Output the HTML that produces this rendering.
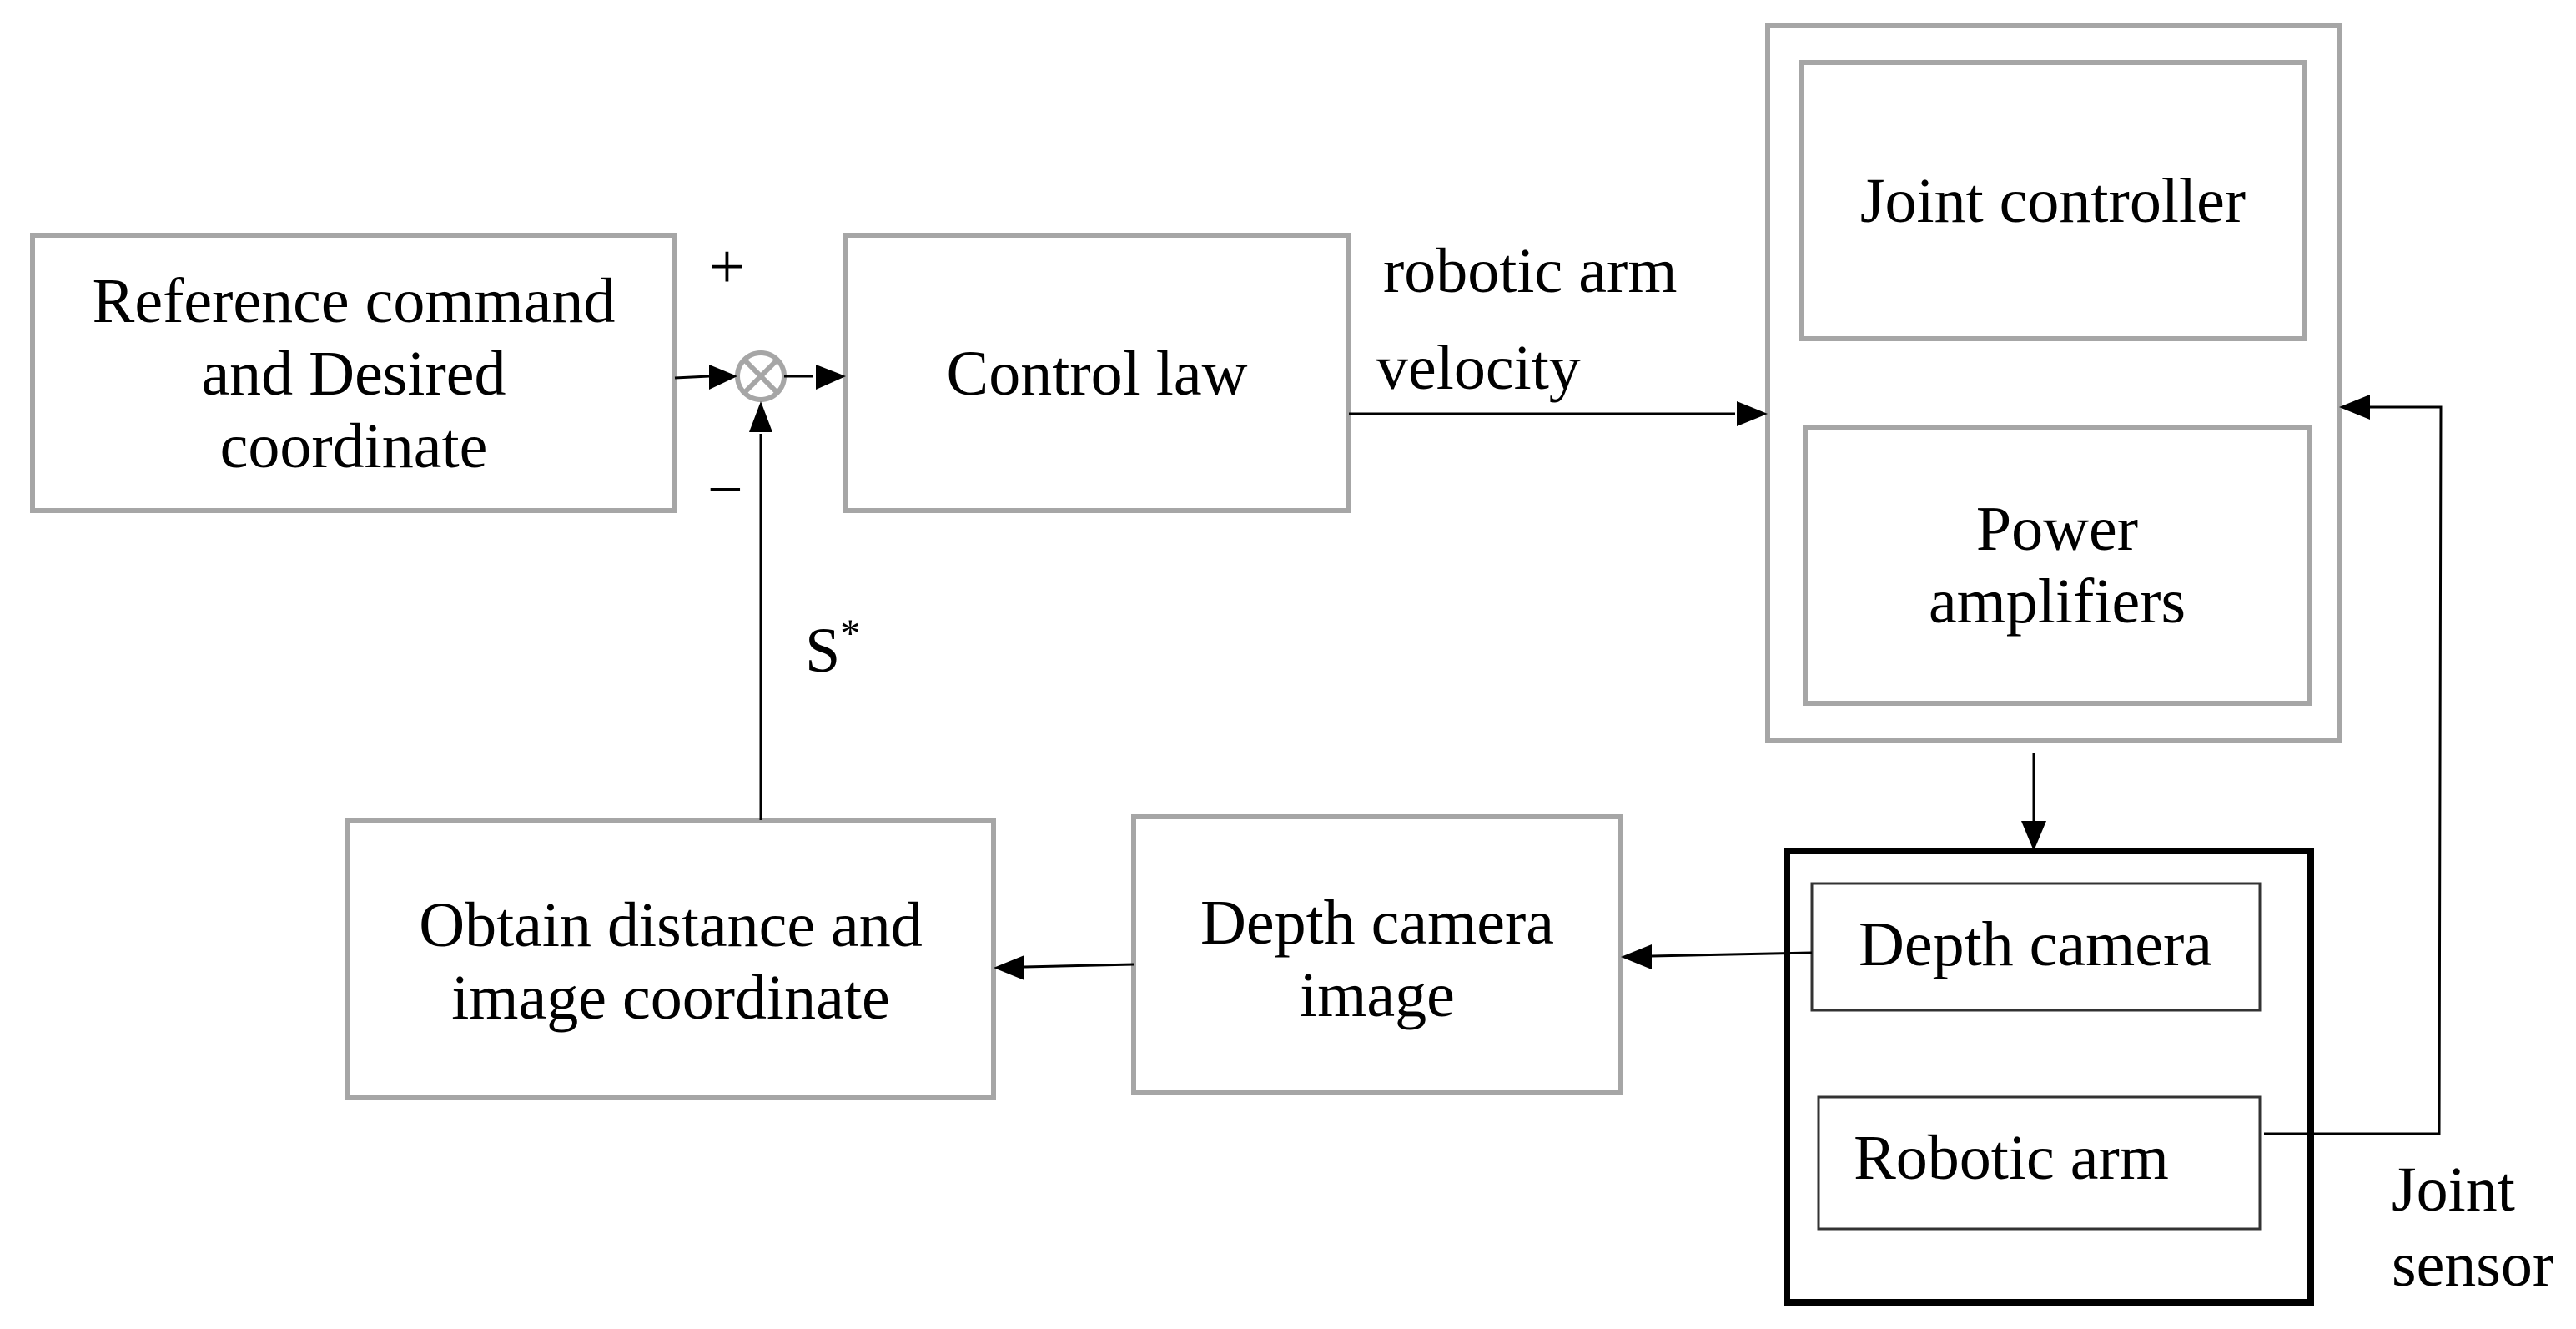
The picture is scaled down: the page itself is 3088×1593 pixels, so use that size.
<!DOCTYPE html>
<html><head><meta charset="utf-8"><style>
html,body{margin:0;padding:0;background:#fff;}
svg{display:block;}
text{font-family:"Liberation Serif",serif;font-size:76px;fill:#000;}
</style></head><body>
<svg width="3088" height="1593" viewBox="0 0 3088 1593" xmlns="http://www.w3.org/2000/svg">
<defs>
<marker id="a" markerWidth="10" markerHeight="10" refX="10" refY="5" orient="auto" markerUnits="userSpaceOnUse" viewBox="0 0 10 10">
</marker>
</defs>
<g fill="none" stroke="#a6a6a6" stroke-width="6">
<rect x="39" y="282" width="770" height="330"/>
<rect x="1014" y="282" width="603" height="330"/>
<rect x="2119" y="30" width="685" height="858"/>
<rect x="2160" y="75" width="603" height="331"/>
<rect x="2164" y="512" width="604" height="331"/>
<rect x="1359" y="979" width="584" height="330"/>
<rect x="417" y="983" width="774" height="332"/>
<circle cx="912" cy="451" r="28"/>
<line x1="893" y1="432" x2="931" y2="470"/>
<line x1="931" y1="432" x2="893" y2="470"/>
</g>
<rect x="2142" y="1020" width="628" height="541" fill="none" stroke="#000" stroke-width="8"/>
<g fill="none" stroke="#333" stroke-width="3">
<rect x="2172" y="1059" width="537" height="152"/>
<rect x="2180" y="1315" width="529" height="158"/>
</g>
<g stroke="#000" stroke-width="3" fill="none">
<line x1="809" y1="453" x2="850" y2="451"/>
<line x1="940" y1="451" x2="975" y2="451"/>
<line x1="912" y1="983" x2="912" y2="520"/>
<line x1="1617" y1="496" x2="2080" y2="496"/>
<line x1="2438" y1="902" x2="2438" y2="985"/>
<line x1="2172" y1="1142" x2="1980" y2="1146"/>
<line x1="1359" y1="1156" x2="1228" y2="1159"/>
<polyline points="2714,1359 2924,1359 2926,488 2840,488"/>
</g>
<g fill="#000">
<polygon points="884,451 850,437 850,467"/>
<polygon points="1014,451 978,437 978,467"/>
<polygon points="912,481 898,518 926,518"/>
<polygon points="2119,496 2082,481 2082,511"/>
<polygon points="2438,1020 2423,984 2453,984"/>
<polygon points="1943,1147 1980,1132 1980,1162"/>
<polygon points="1191,1160 1228,1145 1228,1175"/>
<polygon points="2804,488 2841,473 2841,503"/>
</g>
<g text-anchor="middle">
<text x="424" y="386">Reference command</text>
<text x="424" y="473">and Desired</text>
<text x="424" y="560">coordinate</text>
<text x="1315" y="473">Control law</text>
<text x="2461" y="266">Joint controller</text>
<text x="2466" y="659">Power</text>
<text x="2466" y="746">amplifiers</text>
<text x="1651" y="1131">Depth camera</text>
<text x="1651" y="1218">image</text>
<text x="804" y="1134">Obtain distance and</text>
<text x="804" y="1221">image coordinate</text>
<text x="2440" y="1157">Depth camera</text>
<text x="2411" y="1413">Robotic arm</text>
</g>
<text x="1658" y="350">robotic arm</text>
<text x="1650" y="466">velocity</text>
<text x="2867" y="1451">Joint</text>
<text x="2867" y="1541">sensor</text>
<text x="850" y="345" font-size="60">+</text>
<text x="848" y="612" font-size="60">−</text>
<text x="965" y="805">S<tspan font-size="48" dy="-30">*</tspan></text>
</svg>
</body></html>
